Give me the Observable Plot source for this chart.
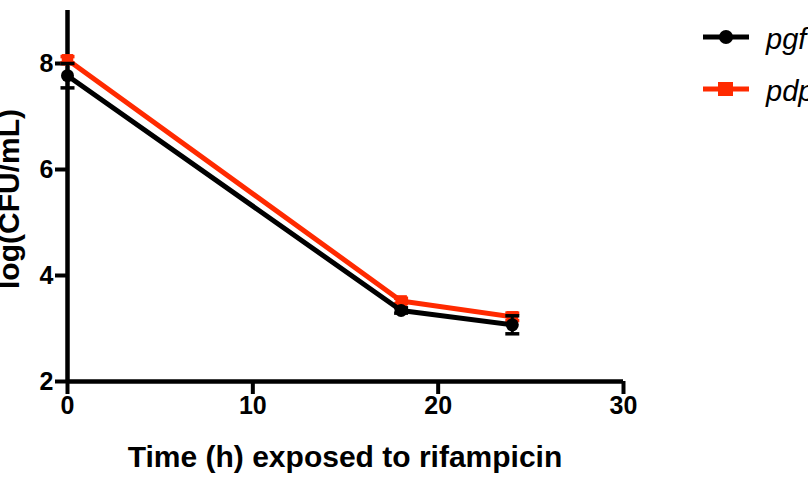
<!DOCTYPE html>
<html><head><meta charset="utf-8">
<script src="https://cdn.jsdelivr.net/npm/d3@7"></script>
<script src="https://cdn.jsdelivr.net/npm/@observablehq/plot@0.6"></script>
<style>
body{margin:0;background:#fff;}
g[aria-label="x-axis tick"] path, g[aria-label="y-axis tick"] path{stroke-width:4px !important;stroke:#000 !important;}
</style>
</head><body>
<div id="chart"></div>
<script>
const times = [0, 18, 24];
const seriesNames = ["pgf", "pdp"];
const pgfMean = [7.77, 3.34, 3.07];
const pgfErr = [0.23, 0.05, 0.17];
const pdpMean = [8.07, 3.52, 3.22];
const pdpErr = [0.06, 0.05, 0.07];
const xTicks = [0, 10, 20, 30];
const yTicks = [2, 4, 6, 8];
const colors = ["#000000", "#ff2a00"];

const rows = [];
times.forEach((t, i) => {
  rows.push({series: "pgf", t, v: pgfMean[i], e: pgfErr[i]});
  rows.push({series: "pdp", t, v: pdpMean[i], e: pdpErr[i]});
});
const pgf = rows.filter(d => d.series === "pgf");
const pdp = rows.filter(d => d.series === "pdp");

const cap = {draw(ctx, size){ const w = 7; ctx.moveTo(-w, 0); ctx.lineTo(w, 0); }};

function seriesMarks(data, color, symbol, r) {
  return [
    Plot.ruleX(data, {x: "t", y1: d => d.v - d.e, y2: d => d.v + d.e, stroke: color, strokeWidth: 3}),
    Plot.dot(data, {x: "t", y: d => d.v - d.e, symbol: cap, stroke: color, strokeWidth: 3.5}),
    Plot.dot(data, {x: "t", y: d => d.v + d.e, symbol: cap, stroke: color, strokeWidth: 3.5}),
    Plot.line(data, {x: "t", y: "v", stroke: color, strokeWidth: 5}),
    Plot.dot(data, {x: "t", y: "v", symbol, r, fill: color, stroke: "none"})
  ];
}

const plot = Plot.plot({
  width: 808, height: 479,
  marginLeft: 67, marginRight: 185, marginTop: 10, marginBottom: 98,
  x: {domain: [0, 30]},
  y: {domain: [2, 9]},
  style: {fontFamily: "Liberation Sans, Arial, sans-serif", fontSize: "25px", fontWeight: "bold", color: "#000"},
  marks: [
    Plot.axisX({ticks: xTicks, tickSize: 13, tickPadding: 2, label: null, tickFormat: d3.format("d")}),
    Plot.axisY({ticks: yTicks, tickSize: 12, tickPadding: 2, label: null, tickFormat: d3.format("d")}),
    Plot.ruleY([2], {x1: 0, x2: 30, stroke: "#000", strokeWidth: 4.5}),
    Plot.ruleX([0], {y1: 2, y2: 9, stroke: "#000", strokeWidth: 4.5}),
    ...seriesMarks(pdp, colors[1], "square", 6.5),
    ...seriesMarks(pgf, colors[0], "circle", 6.5)
  ]
});
document.getElementById("chart").appendChild(plot);

const svg = d3.select(plot);
svg.append("text").attr("x", 345).attr("y", 467).attr("text-anchor", "middle")
  .attr("font-size", 30).attr("font-weight", "bold").attr("fill", "#000").text("Time (h) exposed to rifampicin");
svg.append("text").attr("transform", "translate(19,199) rotate(-90)").attr("text-anchor", "middle")
  .attr("font-size", 30).attr("font-weight", "bold").attr("fill", "#000").text("log(CFU/mL)");

const legY = [37, 89];
seriesNames.forEach((name, i) => {
  const g = svg.append("g");
  g.append("line").attr("x1", 703).attr("x2", 749).attr("y1", legY[i]).attr("y2", legY[i])
    .attr("stroke", colors[i]).attr("stroke-width", 5);
  if (i === 0) g.append("circle").attr("cx", 726).attr("cy", legY[i]).attr("r", 7).attr("fill", colors[i]);
  else g.append("rect").attr("x", 718).attr("y", legY[i] - 7).attr("width", 15).attr("height", 14).attr("fill", colors[i]);
  g.append("text").attr("x", 766).attr("y", legY[i] + 12).attr("font-size", 29).attr("font-style", "italic")
    .attr("font-weight", "normal").attr("text-anchor", "start").attr("fill", "#000").text(name);
});
</script>
</body></html>
